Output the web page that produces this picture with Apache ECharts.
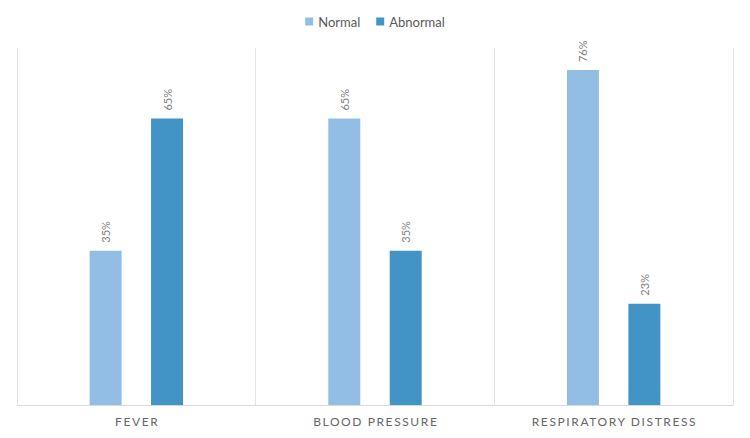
<!DOCTYPE html>
<html><head><meta charset="utf-8">
<script src="https://cdn.jsdelivr.net/npm/echarts@6/dist/echarts.min.js"></script>
<style>html,body{margin:0;padding:0;background:#fff}#c{width:750px;height:438px}</style>
</head><body><div id="c"></div>
<script>
const categories = ['FEVER', 'BLOOD PRESSURE', 'RESPIRATORY DISTRESS'];
const normalValues = [35, 65, 76];
const abnormalValues = [65, 35, 23];
const seriesNames = ['Normal', 'Abnormal'];

const chart = echarts.init(document.getElementById('c'), null, { renderer: 'svg' });
const label = {
  show: true, position: 'top', rotate: 90, align: 'left', verticalAlign: 'middle',
  distance: 8, color: '#7f7f7f', fontSize: 11, fontFamily: 'Lato',
  formatter: p => p.value + '%'
};
chart.setOption({
  animation: false,
  legend: {
    top: 10, left: 'center', itemWidth: 8, itemHeight: 8, itemGap: 16,
    icon: 'rect',
    textStyle: { color: '#595959', fontSize: 13, fontFamily: 'Lato' },
    data: seriesNames
  },
  grid: { left: 17, right: 17, top: 48, bottom: 33 },
  xAxis: {
    type: 'category', data: categories,
    axisLine: { lineStyle: { color: '#d9d9d9' } },
    axisTick: { show: false },
    splitLine: { show: true, lineStyle: { color: '#e3e3e3' } },
    axisLabel: { color: '#666666', fontSize: 12, fontFamily: 'Lato', margin: 10 }
  },
  yAxis: {
    type: 'value', min: 0, max: 81, show: false,
    splitLine: { show: false }
  },
  series: [
    { name: seriesNames[0], type: 'bar', data: normalValues, barWidth: 32, barGap: '92%',
      itemStyle: { color: '#92bee6' }, label },
    { name: seriesNames[1], type: 'bar', data: abnormalValues, barWidth: 32, barGap: '92%',
      itemStyle: { color: '#4394c6' }, label }
  ]
});
function spaceLabels() {
  document.querySelectorAll('#c svg text').forEach(t => {
    if (categories.indexOf(t.textContent) >= 0) {
      t.style.letterSpacing = '1.6px';
      t.setAttribute('dx', '0.8');
    }
  });
}
spaceLabels();
chart.on('finished', spaceLabels);
</script></body></html>
